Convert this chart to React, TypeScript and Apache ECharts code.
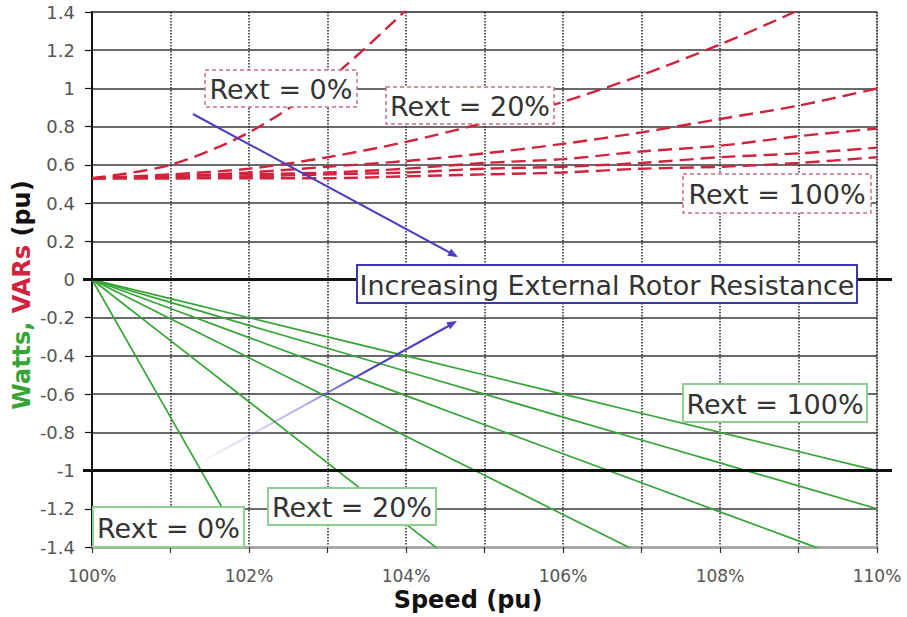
import React, { useEffect, useRef } from 'react';
import * as echarts from 'echarts';

// Speed in percent of synchronous speed
const speedPct = [100, 101, 102, 103, 104, 105, 106, 107, 108, 109, 110];

// Real power (Watts, pu) for each external rotor resistance
const wattsR0 = [0, -0.72, -1.44, null, null, null, null, null, null, null, null];
const wattsR20 = [0, -0.32, -0.64, -0.96, -1.28, -1.6, null, null, null, null, null];
const wattsR40 = [0, -0.205, -0.41, -0.615, -0.82, -1.025, -1.23, -1.435, null, null, null];
const wattsR60 = [0, -0.152, -0.304, -0.456, -0.608, -0.76, -0.912, -1.064, -1.216, -1.368, -1.52];
const wattsR80 = [0, -0.12, -0.24, -0.36, -0.48, -0.6, -0.72, -0.84, -0.96, -1.08, -1.2];
const wattsR100 = [0, -0.1, -0.2, -0.3, -0.4, -0.5, -0.6, -0.7, -0.8, -0.9, -1.0];

// Reactive power (VARs, pu)
const varsR0 = [0.53, 0.6, 0.77, 1.04, 1.41, null, null, null, null, null, null];
const varsR20 = [0.53, 0.55, 0.58, 0.64, 0.72, 0.82, 0.93, 1.07, 1.23, 1.41, 1.61];
const varsR40 = [0.53, 0.54, 0.56, 0.59, 0.62, 0.66, 0.71, 0.77, 0.84, 0.91, 1.0];
const varsR60 = [0.53, 0.54, 0.55, 0.56, 0.58, 0.61, 0.63, 0.67, 0.7, 0.75, 0.79];
const varsR80 = [0.53, 0.53, 0.54, 0.55, 0.56, 0.58, 0.59, 0.61, 0.64, 0.66, 0.69];
const varsR100 = [0.53, 0.53, 0.53, 0.53, 0.54, 0.55, 0.56, 0.58, 0.59, 0.61, 0.64];

const wattsSeries = [wattsR0, wattsR20, wattsR40, wattsR60, wattsR80, wattsR100];
const varsSeries = [varsR0, varsR20, varsR40, varsR60, varsR80, varsR100];
const rextNames = ['0%', '20%', '40%', '60%', '80%', '100%'];

// Reference lines (thick black)
const refLines = [0, -1];

const FONT = '"DejaVu Sans", Verdana, sans-serif';

function pairs(arr: (number | null)[]) {
  const out: number[][] = [];
  arr.forEach((v, i) => {
    if (v !== null) out.push([speedPct[i], v]);
  });
  return out;
}

function boxed(x: number, y: number, w: number, h: number, text: string, kind: 'red' | 'green' | 'blue') {
  const stroke = kind === 'red' ? '#c9707c' : kind === 'green' ? '#8fcf8f' : '#3d35b5';
  const lineDash = kind === 'red' ? [4, 3] : null;
  const lw = kind === 'blue' ? 2 : kind === 'green' ? 2 : 1.5;
  return [
    {
      type: 'rect',
      z: 100,
      shape: { x, y, width: w, height: h },
      style: { fill: '#fff', stroke, lineWidth: lw, lineDash },
    },
    {
      type: 'text',
      z: 101,
      x: x + w / 2,
      y: y + h / 2 + 1,
      style: {
        text,
        fill: '#333',
        font: `27px ${FONT}`,
        align: 'center',
        verticalAlign: 'middle',
      },
    },
  ];
}

function arrowHead(x1: number, y1: number, x2: number, y2: number, color: string) {
  const dx = x2 - x1;
  const dy = y2 - y1;
  const len = Math.sqrt(dx * dx + dy * dy);
  const ux = dx / len;
  const uy = dy / len;
  const back = 10;
  const half = 4;
  const bx = x2 - ux * back;
  const by = y2 - uy * back;
  return {
    type: 'polygon',
    z: 102,
    shape: {
      points: [
        [x2, y2],
        [bx - uy * half, by + ux * half],
        [bx + uy * half, by - ux * half],
      ],
    },
    style: { fill: color },
  };
}

export default function App() {
  const ref = useRef<HTMLDivElement>(null);

  useEffect(() => {
    if (!ref.current) return;
    const chart = echarts.init(ref.current, null, { renderer: 'svg' });

    const series: any[] = [];
    wattsSeries.forEach((arr, i) => {
      series.push({
        name: 'Watts Rext ' + rextNames[i],
        type: 'line',
        data: pairs(arr),
        showSymbol: false,
        symbol: 'none',
        clip: true,
        lineStyle: { color: '#35a535', width: 1.7 },
        z: 3,
      });
    });
    varsSeries.forEach((arr, i) => {
      series.push({
        name: 'VARs Rext ' + rextNames[i],
        type: 'line',
        data: pairs(arr),
        showSymbol: false,
        symbol: 'none',
        smooth: 0.3,
        clip: true,
        lineStyle: { color: '#d2223d', width: 2.4, type: [14, 7] },
        z: 3,
      });
    });

    const option: any = {
      animation: false,
      backgroundColor: '#fff',
      grid: {
        left: 92,
        right: 30,
        top: 12,
        bottom: 70,
        show: true,
        borderColor: '#aaa',
        borderWidth: 1.5,
        backgroundColor: 'transparent',
      },
      xAxis: {
        type: 'value',
        min: 100,
        max: 110,
        interval: 1,
        axisLine: { show: true, onZero: false, lineStyle: { color: '#aaa', width: 3 } },
        axisTick: { show: true, length: 6, lineStyle: { color: '#333', width: 1.2 } },
        axisLabel: {
          margin: 20,
          fontFamily: FONT,
          fontSize: 17,
          color: '#555',
          formatter: (v: number) => (Math.round(v) % 2 === 0 ? `${Math.round(v)}%` : ''),
        },
        splitLine: { show: true, lineStyle: { color: '#222', width: 1.5, type: [1.5, 1.5] } },
      },
      yAxis: {
        type: 'value',
        min: -1.4,
        max: 1.4,
        interval: 0.2,
        axisLine: { show: true, onZero: false, lineStyle: { color: '#111', width: 2 } },
        axisTick: { show: true, length: 7, lineStyle: { color: '#111', width: 1.2 } },
        axisLabel: {
          margin: 17,
          fontFamily: FONT,
          fontSize: 18,
          color: '#555',
          formatter: (v: number) => String(Math.round(v * 10) / 10),
        },
        splitLine: { show: true, lineStyle: { color: '#3a3a3a', width: 1.5 } },
      },
      series,
    };
    chart.setOption(option);

    const graphic: any[] = [];
    // thick reference lines through the library's own scale
    refLines.forEach((v) => {
      const pL = chart.convertToPixel({ gridIndex: 0 }, [100, v]) as number[];
      const pR = chart.convertToPixel({ gridIndex: 0 }, [110, v]) as number[];
      graphic.push({
        type: 'line',
        z: 50,
        shape: { x1: pL[0] - 9, y1: pL[1], x2: pR[0] + 15, y2: pR[1] },
        style: { stroke: '#111', lineWidth: 3 },
      });
    });

    // blue arrows
    const blue = '#4a3fc0';
    graphic.push({
      type: 'line',
      z: 102,
      shape: { x1: 193, y1: 114, x2: 456, y2: 256 },
      style: { stroke: blue, lineWidth: 2 },
    });
    graphic.push(arrowHead(193, 114, 458, 257, blue));
    graphic.push({
      type: 'line',
      z: 102,
      shape: { x1: 205, y1: 460, x2: 454, y2: 323 },
      style: {
        stroke: new echarts.graphic.LinearGradient(0, 1, 1, 0, [
          { offset: 0, color: 'rgba(90,80,210,0.06)' },
          { offset: 0.4, color: 'rgba(90,80,210,0.45)' },
          { offset: 0.65, color: blue },
          { offset: 1, color: blue },
        ]),
        lineWidth: 2,
      },
    });
    graphic.push(arrowHead(205, 460, 457, 321, blue));

    // annotation boxes
    graphic.push(...boxed(205, 70, 152, 37, 'Rext = 0%', 'red'));
    graphic.push(...boxed(386, 87, 168, 37, 'Rext = 20%', 'red'));
    graphic.push(...boxed(683, 174, 188, 39, 'Rext = 100%', 'red'));
    graphic.push(...boxed(357, 265, 500, 38, 'Increasing External Rotor Resistance', 'blue'));
    graphic.push(...boxed(683, 384, 184, 38, 'Rext = 100%', 'green'));
    graphic.push(...boxed(268, 488, 168, 37, 'Rext = 20%', 'green'));
    graphic.push(...boxed(93, 507, 151, 40, 'Rext = 0%', 'green'));

    // axis titles
    graphic.push({
      type: 'text',
      z: 110,
      x: 22,
      y: 295,
      rotation: Math.PI / 2,
      style: {
        text: '{g|Watts,} {r|VARs} {k|(pu)}',
        font: `bold 24px ${FONT}`,
        fill: '#111',
        align: 'center',
        verticalAlign: 'middle',
        rich: {
          g: { fill: '#35a535', font: `bold 24px ${FONT}` },
          r: { fill: '#d2223d', font: `bold 24px ${FONT}` },
          k: { fill: '#111', font: `bold 24px ${FONT}` },
        },
      },
    });
    graphic.push({
      type: 'text',
      z: 110,
      x: 468,
      y: 600,
      style: {
        text: 'Speed (pu)',
        font: `bold 24px ${FONT}`,
        fill: '#111',
        align: 'center',
        verticalAlign: 'middle',
      },
    });

    chart.setOption({ graphic });

    return () => {
      chart.dispose();
    };
  }, []);

  return (
    <div
      ref={ref}
      style={{ position: 'fixed', left: 0, top: 0, width: 907, height: 617, background: '#fff' }}
    />
  );
}
